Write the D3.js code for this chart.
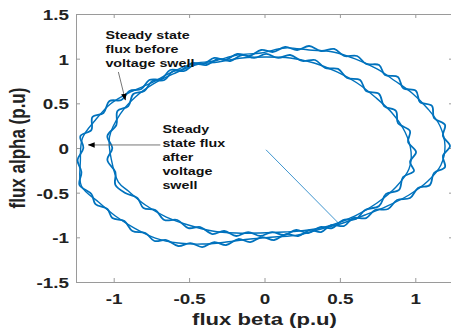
<!DOCTYPE html>
<html>
<head>
<meta charset="utf-8">
<script src="https://cdn.jsdelivr.net/npm/d3@7"></script>
<style>
  html, body { margin: 0; padding: 0; background: #fff; }
  svg { display: block; }
</style>
</head>
<body>
<svg id="chart" width="451" height="332"></svg>
<script>
// ---------- DATA ----------
const xTickValues = [-1, -0.5, 0, 0.5, 1];
const yTickValues = [-1.5, -1, -0.5, 0, 0.5, 1, 1.5];
const xLabel = "flux beta (p.u)";
const yLabel = "flux alpha (p.u)";

// Outer loop (flux after the swell), trace A
const outerTraceA = [
  [-1.227,-0.414],[-1.214,-0.269],[-1.240,-0.134],[-1.201,0.000],[-1.221,0.134],[-1.148,0.202],
  [-1.141,0.347],[-1.068,0.392],[-1.028,0.526],[-0.949,0.538],[-0.896,0.638],[-0.817,0.661],
  [-0.764,0.761],[-0.684,0.773],[-0.625,0.873],[-0.552,0.873],[-0.479,0.952],[-0.406,0.941],
  [-0.333,1.008],[-0.260,0.985],[-0.181,1.053],[-0.101,1.030],[-0.022,1.097],[0.058,1.075],
  [0.137,1.131],[0.217,1.097],[0.296,1.142],[0.375,1.086],[0.462,1.109],[0.528,1.030],
  [0.614,1.030],[0.674,0.941],[0.760,0.929],[0.799,0.817],[0.885,0.795],[0.919,0.672],
  [1.005,0.638],[1.031,0.515],[1.111,0.470],[1.124,0.336],[1.197,0.258],[1.183,0.134],
  [1.230,0.022],[1.183,-0.090],[1.197,-0.213],[1.124,-0.280],[1.097,-0.414],[1.018,-0.448],
  [0.965,-0.560],[0.879,-0.582],[0.819,-0.683],[0.733,-0.694],[0.674,-0.784],[0.587,-0.784],
  [0.528,-0.873],[0.442,-0.862],[0.375,-0.941],[0.303,-0.918],[0.223,-0.985],[0.144,-0.963],
  [0.064,-1.030],[-0.015,-0.997],[-0.095,-1.053],[-0.174,-1.019],[-0.254,-1.086],[-0.333,-1.053],
  [-0.413,-1.109],[-0.492,-1.064],[-0.572,-1.097],[-0.651,-1.030],[-0.730,-1.041],[-0.790,-0.952],
  [-0.876,-0.929],[-0.929,-0.817],[-1.009,-0.784],[-1.042,-0.683],[-1.121,-0.627],[-1.148,-0.515]
];
// Outer loop, trace B
const outerTraceB = [
  [-1.214,-0.426],[-1.221,-0.146],[-1.207,0.112],[-1.121,0.314],[-1.022,0.493],[-0.889,0.627],
  [-0.750,0.728],[-0.625,0.840],[-0.479,0.941],[-0.333,0.974],[-0.181,1.041],[-0.022,1.064],
  [0.137,1.120],[0.296,1.097],[0.455,1.075],[0.601,0.997],[0.746,0.885],[0.866,0.750],
  [0.978,0.616],[1.084,0.437],[1.164,0.246],[1.197,0.022],[1.170,-0.190],[1.084,-0.370],
  [0.958,-0.526],[0.813,-0.650],[0.667,-0.750],[0.521,-0.840],[0.375,-0.907],[0.223,-0.974],
  [0.064,-0.997],[-0.095,-1.019],[-0.254,-1.053],[-0.413,-1.075],[-0.572,-1.064],[-0.724,-1.008],
  [-0.863,-0.896],[-0.989,-0.761],[-1.101,-0.605]
];
// Inner loop (steady state flux before the swell), trace A
const innerTraceA = [
  [-0.989,-0.414],[-0.989,-0.269],[-1.042,-0.134],[-1.009,0.000],[-1.042,0.134],[-0.982,0.258],
  [-0.975,0.414],[-0.903,0.470],[-0.870,0.605],[-0.797,0.638],[-0.744,0.750],[-0.664,0.761],
  [-0.605,0.862],[-0.532,0.862],[-0.459,0.941],[-0.386,0.929],[-0.307,0.997],[-0.227,0.974],
  [-0.148,1.041],[-0.068,1.008],[0.011,1.053],[0.091,1.008],[0.170,1.041],[0.250,0.974],
  [0.336,0.985],[0.402,0.896],[0.488,0.885],[0.548,0.784],[0.634,0.761],[0.674,0.638],
  [0.760,0.605],[0.793,0.470],[0.872,0.414],[0.885,0.280],[0.965,0.190],[0.952,0.067],
  [1.005,-0.045],[0.965,-0.157],[0.991,-0.258],[0.919,-0.325],[0.892,-0.470],[0.806,-0.515],
  [0.760,-0.650],[0.667,-0.694],[0.607,-0.795],[0.521,-0.806],[0.448,-0.896],[0.369,-0.885],
  [0.289,-0.952],[0.210,-0.918],[0.130,-0.974],[0.051,-0.941],[-0.028,-0.985],[-0.108,-0.941],
  [-0.187,-0.985],[-0.267,-0.929],[-0.346,-0.963],[-0.426,-0.885],[-0.505,-0.896],[-0.578,-0.806],
  [-0.664,-0.806],[-0.724,-0.694],[-0.803,-0.672],[-0.843,-0.560],[-0.923,-0.504]
];
// Inner loop, trace B
const innerTraceB = [
  [-0.969,-0.381],[-1.015,-0.134],[-1.028,0.123],[-0.956,0.381],[-0.856,0.571],[-0.737,0.717],
  [-0.605,0.829],[-0.459,0.929],[-0.307,0.963],[-0.148,1.008],[0.011,1.019],[0.170,1.008],
  [0.329,0.952],[0.481,0.851],[0.614,0.728],[0.733,0.571],[0.846,0.392],[0.932,0.179],
  [0.972,-0.045],[0.958,-0.235],[0.872,-0.437],[0.746,-0.616],[0.601,-0.761],[0.448,-0.862],
  [0.289,-0.918],[0.130,-0.941],[-0.028,-0.952],[-0.187,-0.952],[-0.346,-0.929],[-0.505,-0.862],
  [-0.651,-0.773],[-0.790,-0.638],[-0.903,-0.482]
];
// Initial transient from the origin
const transient = [[0.01,-0.02],[0.49,-0.84]];

// Annotations text
const noteBeforeLines = ["Steady state", "flux before", "voltage swell"];
const noteAfterLines = ["Steady", "state flux", "after", "voltage", "swell"];

(function () {
// ---------- LAYOUT ----------
const mLeft = 76, mRight = 453, mTop = 14, mBottom = 282;
const SX = 1.3; // horizontal stretch of the original picture
const blue = "#0072BD";

const svg = d3.select("#chart");
const x = d3.scaleLinear().domain([-1.25, 1.25]).range([mLeft, mRight]);
const y = d3.scaleLinear().domain([-1.5, 1.5]).range([mBottom, mTop]);

const defs = svg.append("defs");
defs.append("clipPath").attr("id", "clip")
  .append("rect").attr("x", mLeft).attr("y", mTop).attr("width", mRight - mLeft).attr("height", mBottom - mTop);
defs.append("marker").attr("id", "arr").attr("viewBox", "0 0 10 10")
  .attr("refX", 9).attr("refY", 5).attr("markerWidth", 7).attr("markerHeight", 7)
  .attr("markerUnits", "userSpaceOnUse").attr("orient", "auto")
  .append("path").attr("d", "M0,1 L10,5 L0,9 Z").attr("fill", "#000");

// ---------- AXES ----------
const axisColor = "#9a9a9a";
function styleAxis(g) {
  g.select(".domain").attr("stroke", axisColor).attr("stroke-width", 1);
  g.selectAll(".tick line").attr("stroke", axisColor).attr("stroke-width", 1);
  g.selectAll(".tick text")
    .attr("fill", "#222")
    .attr("font-family", "'Liberation Sans', Arial, sans-serif")
    .attr("font-weight", "bold")
    .attr("font-size", "14.5px");
}
const gx = svg.append("g").attr("transform", `translate(0,${mBottom})`)
  .call(d3.axisBottom(x).tickValues(xTickValues).tickFormat(d => String(d))
    .tickSizeInner(-4).tickSizeOuter(0).tickPadding(12));
styleAxis(gx);
gx.selectAll(".tick text").attr("transform", `scale(${SX},1)`);

const gxt = svg.append("g").attr("transform", `translate(0,${mTop})`)
  .call(d3.axisTop(x).tickValues(xTickValues).tickFormat("").tickSizeInner(-4).tickSizeOuter(0));
styleAxis(gxt);

const gy = svg.append("g").attr("transform", `translate(${mLeft},0)`)
  .call(d3.axisLeft(y).tickValues(yTickValues).tickFormat(d => String(d))
    .tickSizeInner(-4).tickSizeOuter(0).tickPadding(5.4));
styleAxis(gy);
gy.selectAll(".tick text").attr("transform", `scale(${SX},1)`).attr("dy", "0.38em");

const gyr = svg.append("g").attr("transform", `translate(${mRight},0)`)
  .call(d3.axisRight(y).tickValues(yTickValues).tickFormat("").tickSizeInner(-4).tickSizeOuter(0));
styleAxis(gyr);

// ---------- DATA MARKS ----------
const plot = svg.append("g").attr("clip-path", "url(#clip)");
const loopLine = d3.line().x(d => x(d[0])).y(d => y(d[1])).curve(d3.curveCatmullRomClosed.alpha(0.5));

plot.append("path").datum(transient)
  .attr("d", d3.line().x(d => x(d[0])).y(d => y(d[1])))
  .attr("fill", "none").attr("stroke", blue).attr("stroke-width", 1).attr("stroke-opacity", 0.75);

[[outerTraceB, 1.4], [innerTraceB, 1.4], [outerTraceA, 1.8], [innerTraceA, 1.8]].forEach(([tr, w]) => {
  plot.append("path").datum(tr).attr("d", loopLine)
    .attr("fill", "none").attr("stroke", blue).attr("stroke-width", w).attr("stroke-linejoin", "round");
});

// ---------- ANNOTATIONS ----------
const noteFont = "'Liberation Sans', Arial, sans-serif";
function note(lines, ax, ay, lh) {
  lines.forEach((t, i) => {
    svg.append("text")
      .attr("transform", `translate(${x(ax)},${y(ay) + i * lh}) scale(${SX},1)`)
      .attr("font-family", noteFont).attr("font-weight", "bold").attr("font-size", "11px")
      .attr("fill", "#111").text(t);
  });
}
note(noteBeforeLines, -1.055, 1.215, 14);
note(noteAfterLines, -0.677, 0.168, 14);

// arrows
svg.append("line")
  .attr("x1", x(-0.969)).attr("y1", y(0.851)).attr("x2", x(-0.923)).attr("y2", y(0.538))
  .attr("stroke", "#666").attr("stroke-width", 0.9).attr("marker-end", "url(#arr)");
svg.append("line")
  .attr("x1", x(-0.691)).attr("y1", y(0.034)).attr("x2", x(-1.168)).attr("y2", y(0.034))
  .attr("stroke", "#666").attr("stroke-width", 0.9).attr("marker-end", "url(#arr)");

// ---------- AXIS LABELS ----------
svg.append("text")
  .attr("transform", `translate(${(mLeft + mRight) / 2},325) scale(${SX},1)`)
  .attr("text-anchor", "middle").attr("font-family", noteFont).attr("font-weight", "bold")
  .attr("font-size", "17px").attr("fill", "#222").text(xLabel);
svg.append("text")
  .attr("transform", `translate(25,${(mTop + mBottom) / 2}) scale(${SX},1) rotate(-90)`)
  .attr("text-anchor", "middle").attr("font-family", noteFont).attr("font-weight", "bold")
  .attr("font-size", "17px").attr("fill", "#222").text(yLabel);
})();
</script>
</body>
</html>
